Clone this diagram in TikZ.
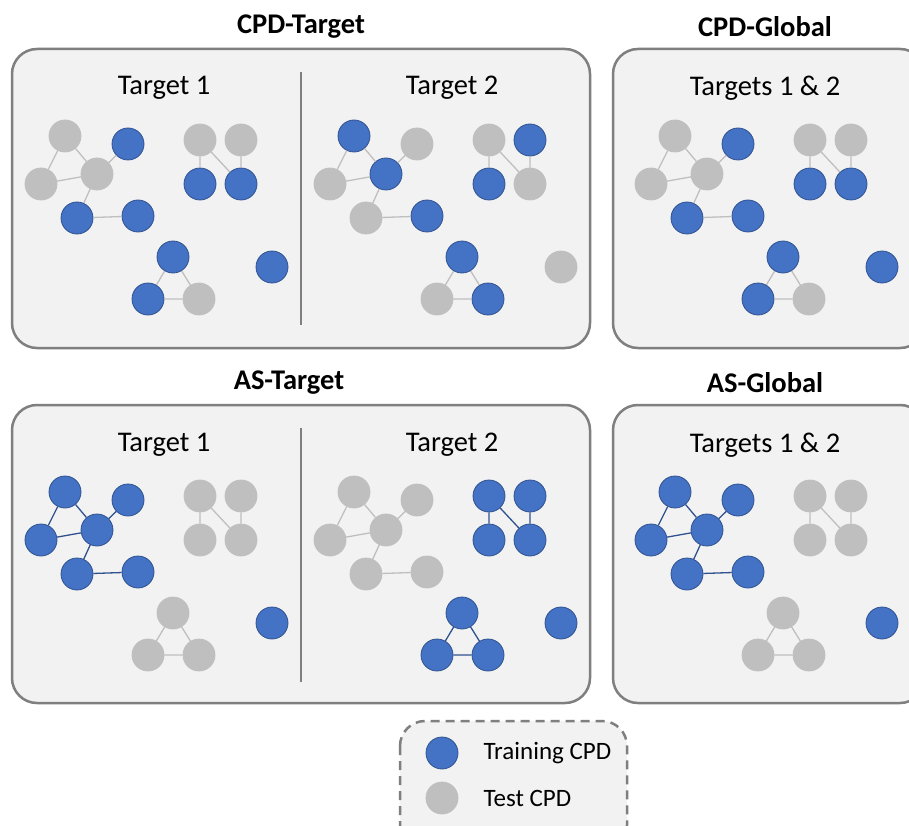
\documentclass[tikz,border=0pt]{standalone}
\usepackage{fontspec}
\setmainfont{Carlito}
\usepackage{xcolor}
\usepackage{tikz}
\usetikzlibrary{positioning}
\definecolor{kblue}{HTML}{4472C4}
\definecolor{kbluedark}{HTML}{2F528F}
\definecolor{kgrey}{HTML}{BFBFBF}
\definecolor{kframe}{HTML}{7F7F7F}
\definecolor{kpanel}{HTML}{F2F2F2}

\tikzset{
  cpd/.style={circle, minimum size=32pt, inner sep=0pt, line width=0.8pt},
  train/.style={cpd, fill=kblue, draw=kbluedark},
  test/.style={cpd, fill=kgrey, draw=kgrey},
  trainedge/.style={draw=kbluedark, line width=1.3pt},
  testedge/.style={draw=kgrey, line width=1.3pt},
  panel/.style={fill=kpanel, draw=kframe, line width=2.5pt, rounded corners=25pt},
  divider/.style={draw=kframe, line width=2.5pt},
  heading/.style={font=\fontsize{28.5}{33}\selectfont\bfseries},
  tgtlabel/.style={font=\fontsize{28.5}{33}\selectfont},
  keytext/.style={font=\fontsize{25}{30}\selectfont, inner sep=0pt, anchor=west},
  keybox/.style={fill=kpanel, draw=kframe, line width=2.5pt, rounded corners=25pt,
    dash pattern=on 9pt off 6pt},
  % colourings of the same layout
  cpdone/.style={va/.style=test, vb/.style=test, vc/.style=test, vd/.style=train,
    ve/.style=train, vf/.style=train, vg/.style=test, vh/.style=test,
    vi/.style=train, vj/.style=train, vk/.style=train, vl/.style=train,
    vm/.style=test, vn/.style=train,
    linkA/.style=testedge, linkB/.style=testedge, linkC/.style=testedge},
  cpdtwo/.style={va/.style=train, vb/.style=test, vc/.style=train, vd/.style=test,
    ve/.style=test, vf/.style=train, vg/.style=test, vh/.style=train,
    vi/.style=train, vj/.style=test, vk/.style=train, vl/.style=test,
    vm/.style=train, vn/.style=test,
    linkA/.style=testedge, linkB/.style=testedge, linkC/.style=testedge},
  asone/.style={va/.style=train, vb/.style=train, vc/.style=train, vd/.style=train,
    ve/.style=train, vf/.style=train, vg/.style=test, vh/.style=test,
    vi/.style=test, vj/.style=test, vk/.style=test, vl/.style=test,
    vm/.style=test, vn/.style=train,
    linkA/.style=trainedge, linkB/.style=testedge, linkC/.style=testedge},
  astwo/.style={va/.style=test, vb/.style=test, vc/.style=test, vd/.style=test,
    ve/.style=test, vf/.style=test, vg/.style=train, vh/.style=train,
    vi/.style=train, vj/.style=train, vk/.style=train, vl/.style=train,
    vm/.style=train, vn/.style=train,
    linkA/.style=testedge, linkB/.style=trainedge, linkC/.style=trainedge}
}

\newcommand{\cpdgraph}[1]{%
  \node[va] (#1a) at (65,136) {};
  \node[vb] (#1b) at (41,184) {};
  \node[vc] (#1c) at (97,174) {};
  \node[vd] (#1d) at (128,144) {};
  \node[ve] (#1e) at (77,218) {};
  \node[vf] (#1f) at (138,216) {};
  \node[vg] (#1g) at (200,140) {};
  \node[vh] (#1h) at (241,140) {};
  \node[vi] (#1i) at (200,184) {};
  \node[vj] (#1j) at (241,184) {};
  \node[vk] (#1k) at (173,257) {};
  \node[vl] (#1l) at (148,299) {};
  \node[vm] (#1m) at (199,299) {};
  \node[vn] (#1n) at (272,267) {};
  \draw[linkA] (#1a) -- (#1b) (#1a) -- (#1c) (#1b) -- (#1c) (#1c) -- (#1d)
    (#1c) -- (#1e) (#1e) -- (#1f);
  \draw[linkB] (#1g) -- (#1i) (#1g) -- (#1j) (#1h) -- (#1j);
  \draw[linkC] (#1k) -- (#1l) (#1k) -- (#1m) (#1l) -- (#1m);
}

\begin{document}
\begin{tikzpicture}[x=1pt, y=-1pt]
\useasboundingbox (0,0) rectangle (909,826);
\fill[white] (0,0) rectangle (909,826);
\draw[panel] (12,49) rectangle (590,348);
\draw[panel] (613,49) rectangle (925,348);
\draw[panel] (12,405) rectangle (590,703);
\draw[panel] (613,405) rectangle (925,703);
\draw[divider] (301,72) -- (301,325);
\draw[divider] (301,428) -- (301,682);
\node[heading] (cpdtarget) at (301,27) {CPD-Target};
\node[heading] (cpdglobal) at (765,27) {CPD-Global};
\node[heading] (astarget) at (289,383) {AS-Target};
\node[heading] (asglobal) at (765,383) {AS-Global};
\node[tgtlabel] (cpdtone) at (164,88) {Target 1};
\node[tgtlabel] (cpdttwo) at (452,88) {Target 2};
\node[tgtlabel] (cpdgboth) at (765,88) {Targets 1 \& 2};
\node[tgtlabel] (astone) at (164,445) {Target 1};
\node[tgtlabel] (asttwo) at (452,445) {Target 2};
\node[tgtlabel] (asgboth) at (765,445) {Targets 1 \& 2};
\begin{scope}[cpdone]\cpdgraph{p1}\end{scope}
\begin{scope}[cpdtwo, shift={(289,0)}]\cpdgraph{p2}\end{scope}
\begin{scope}[cpdone, shift={(610,0)}]\cpdgraph{p3}\end{scope}
\begin{scope}[asone, shift={(0,356)}]\cpdgraph{q1}\end{scope}
\begin{scope}[astwo, shift={(289,356)}]\cpdgraph{q2}\end{scope}
\begin{scope}[asone, shift={(610,356)}]\cpdgraph{q3}\end{scope}
% legend
\draw[keybox] (400,721) rectangle (627,850);
\node[train] (keytrain) at (442,753) {};
\node[test] (keytest) at (442,798) {};
\node[keytext, right=25pt of keytrain] (keytraintext) {Training CPD};
\node[keytext, right=25pt of keytest] (keytesttext) {Test CPD};
\end{tikzpicture}
\end{document}
